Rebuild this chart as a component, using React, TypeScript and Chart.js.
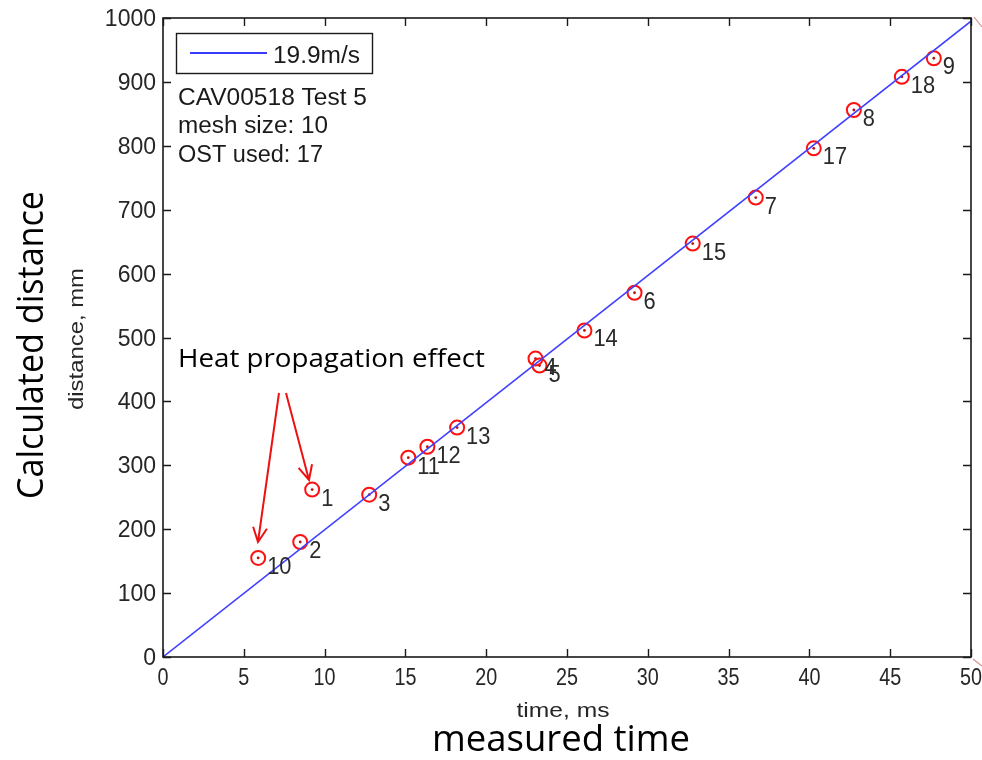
import React, { useEffect, useRef } from "react";
import { Chart, registerables } from "chart.js";
Chart.register(...registerables);

const W = 982;
const H = 760;

const xTicks = [0, 5, 10, 15, 20, 25, 30, 35, 40, 45, 50];
const yTicks = [0, 100, 200, 300, 400, 500, 600, 700, 800, 900, 1000];

const pointIds = ["10", "2", "1", "3", "11", "12", "13", "4", "5", "14", "6", "15", "7", "17", "8", "18", "9"];
const timeMs = [5.89, 8.49, 9.23, 12.76, 15.18, 16.36, 18.2, 23.05, 23.3, 26.08, 29.18, 32.78, 36.68, 40.27, 42.75, 45.72, 47.7];
const distMm = [155, 180, 262, 254, 312, 329, 359, 467, 456, 511, 570, 647, 719, 796, 856, 908, 937];

const fitTime = [0, 50];
const fitDist = [0, 995];

const legendLabel = "19.9m/s";
const infoLines = ["CAV00518 Test 5", "mesh size: 10", "OST used: 17"];
const annotationText = "Heat propagation effect";
const xTitle = "time, ms";
const yTitle = "distance, mm";
const xBigTitle = "measured time";
const yBigTitle = "Calculated distance";

const MFONT = "'Liberation Sans', Arial, sans-serif";

function scaledText(
  ctx: CanvasRenderingContext2D,
  text: string,
  x: number,
  y: number,
  font: string,
  sx: number,
  align: CanvasTextAlign = "left",
  baseline: CanvasTextBaseline = "alphabetic"
) {
  ctx.save();
  ctx.font = font;
  ctx.translate(x, y);
  ctx.scale(sx, 1);
  ctx.textAlign = align;
  ctx.textBaseline = baseline;
  ctx.fillText(text, 0, 0);
  ctx.restore();
}

function fitText(
  ctx: CanvasRenderingContext2D,
  text: string,
  x: number,
  y: number,
  font: string,
  width: number,
  align: CanvasTextAlign = "left",
  rotate = 0
) {
  ctx.save();
  ctx.font = font;
  const w = ctx.measureText(text).width;
  const s = width ? width / w : 1;
  ctx.translate(x, y);
  if (rotate) ctx.rotate(rotate);
  ctx.scale(s, 1);
  ctx.textAlign = align;
  ctx.textBaseline = "alphabetic";
  ctx.fillText(text, 0, 0);
  ctx.restore();
}

function arrow(ctx: CanvasRenderingContext2D, x1: number, y1: number, x2: number, y2: number) {
  ctx.beginPath();
  ctx.moveTo(x1, y1);
  ctx.lineTo(x2, y2);
  const ang = Math.atan2(y2 - y1, x2 - x1);
  const len = 16;
  const spread = 0.45;
  ctx.moveTo(x2 - len * Math.cos(ang - spread), y2 - len * Math.sin(ang - spread));
  ctx.lineTo(x2, y2);
  ctx.lineTo(x2 - len * Math.cos(ang + spread), y2 - len * Math.sin(ang + spread));
  ctx.stroke();
}

const decorPlugin = {
  id: "decor",
  afterDraw(chart: any) {
    const ctx: CanvasRenderingContext2D = chart.ctx;
    const { left, right, top, bottom } = chart.chartArea;
    const xs = chart.scales.x;
    const ys = chart.scales.y;
    ctx.save();

    // box
    ctx.strokeStyle = "#1a1a1a";
    ctx.lineWidth = 1.6;
    ctx.strokeRect(left, top, right - left, bottom - top);

    // ticks (inside, all sides)
    ctx.lineWidth = 1.4;
    ctx.beginPath();
    const tl = 8;
    xTicks.forEach((v) => {
      const px = Math.round(xs.getPixelForValue(v)) + 0.5;
      ctx.moveTo(px, bottom);
      ctx.lineTo(px, bottom - tl);
      ctx.moveTo(px, top);
      ctx.lineTo(px, top + tl);
    });
    yTicks.forEach((v) => {
      const py = Math.round(ys.getPixelForValue(v)) + 0.5;
      ctx.moveTo(left, py);
      ctx.lineTo(left + tl, py);
      ctx.moveTo(right, py);
      ctx.lineTo(right - tl, py);
    });
    ctx.stroke();

    // tick labels
    ctx.fillStyle = "#262626";
    const tickFont = "23px " + MFONT;
    xTicks.forEach((v) => {
      scaledText(ctx, String(v), xs.getPixelForValue(v), 685, tickFont, 0.86, "center");
    });
    yTicks.forEach((v) => {
      scaledText(ctx, String(v), 156, ys.getPixelForValue(v) + 8, tickFont, 1.0, "right");
    });

    // point labels
    ctx.fillStyle = "#2a2a2a";
    pointIds.forEach((id, i) => {
      const px = xs.getPixelForValue(timeMs[i]);
      const py = ys.getPixelForValue(distMm[i]);
      scaledText(ctx, id, px + 9, py + 16, tickFont, 0.95, "left");
    });

    // legend box
    ctx.fillStyle = "#ffffff";
    ctx.fillRect(176.5, 33.5, 196, 40);
    ctx.strokeStyle = "#1a1a1a";
    ctx.lineWidth = 1.4;
    ctx.strokeRect(176.5, 33.5, 196, 40);
    ctx.strokeStyle = "#3b3bff";
    ctx.lineWidth = 2;
    ctx.beginPath();
    ctx.moveTo(190, 53);
    ctx.lineTo(267, 53);
    ctx.stroke();
    ctx.fillStyle = "#1a1a1a";
    const infoFont = "23px " + MFONT;
    fitText(ctx, legendLabel, 273, 63, infoFont, 87);

    // info lines
    const infoBase = [105, 133, 162];
    const infoW = [189, 150, 145];
    infoLines.forEach((t, i) => {
      fitText(ctx, t, 178, infoBase[i], infoFont, infoW[i]);
    });

    // annotation
    ctx.fillStyle = "#000000";
    fitText(ctx, annotationText, 178, 367, "25px 'Open Sans', sans-serif", 307);
    ctx.strokeStyle = "#ee1111";
    ctx.lineWidth = 2;
    arrow(ctx, 279, 393, 258, 542);
    arrow(ctx, 286, 393, 309, 480);

    // axis titles
    ctx.fillStyle = "#262626";
    fitText(ctx, xTitle, 563, 717, "20px " + MFONT, 93, "center");
    fitText(ctx, yTitle, 83, 339, "20px " + MFONT, 142, "center", -Math.PI / 2);
    ctx.fillStyle = "#000000";
    fitText(ctx, xBigTitle, 561, 751, "36px 'Open Sans', sans-serif", 258, "center");
    fitText(ctx, yBigTitle, 43, 345, "36px 'Open Sans', sans-serif", 308, "center", -Math.PI / 2);

    // small pink corner marks
    ctx.strokeStyle = "#d89090";
    ctx.lineWidth = 1.2;
    ctx.beginPath();
    ctx.moveTo(974, 17);
    ctx.lineTo(982, 27);
    ctx.moveTo(973, 659);
    ctx.lineTo(982, 666);
    ctx.stroke();

    ctx.restore();
  },
};

export default function App() {
  const ref = useRef<HTMLCanvasElement | null>(null);
  useEffect(() => {
    if (!ref.current) return;
    const pts = timeMs.map((t, i) => ({ x: t, y: distMm[i] }));
    const line = fitTime.map((t, i) => ({ x: t, y: fitDist[i] }));
    const chart = new Chart(ref.current, {
      type: "scatter",
      data: {
        datasets: [
          {
            label: legendLabel,
            data: line,
            showLine: true,
            borderColor: "#4040ff",
            borderWidth: 1.5,
            pointRadius: 0,
            fill: false,
          },
          {
            label: "points",
            data: pts,
            pointStyle: "circle",
            pointRadius: 7,
            borderColor: "#ff1010",
            borderWidth: 2,
            backgroundColor: "rgba(0,0,0,0)",
          },
          {
            label: "centers",
            data: pts,
            pointStyle: "circle",
            pointRadius: 1.4,
            borderWidth: 0,
            backgroundColor: "#bb1010",
          },
        ],
      },
      options: {
        animation: false,
        responsive: false,
        layout: { padding: { left: 163, right: 11, top: 18, bottom: 103 } },
        plugins: { legend: { display: false }, tooltip: { enabled: false } },
        scales: {
          x: { type: "linear", min: 0, max: 50, display: false },
          y: { type: "linear", min: 0, max: 1000, display: false },
        },
      },
      plugins: [decorPlugin],
    });
    return () => chart.destroy();
  }, []);
  return (
    <div style={{ position: "absolute", left: 0, top: 0, width: W, height: H, background: "#fff" }}>
      <canvas ref={ref} width={W} height={H} style={{ display: "block" }} />
    </div>
  );
}
